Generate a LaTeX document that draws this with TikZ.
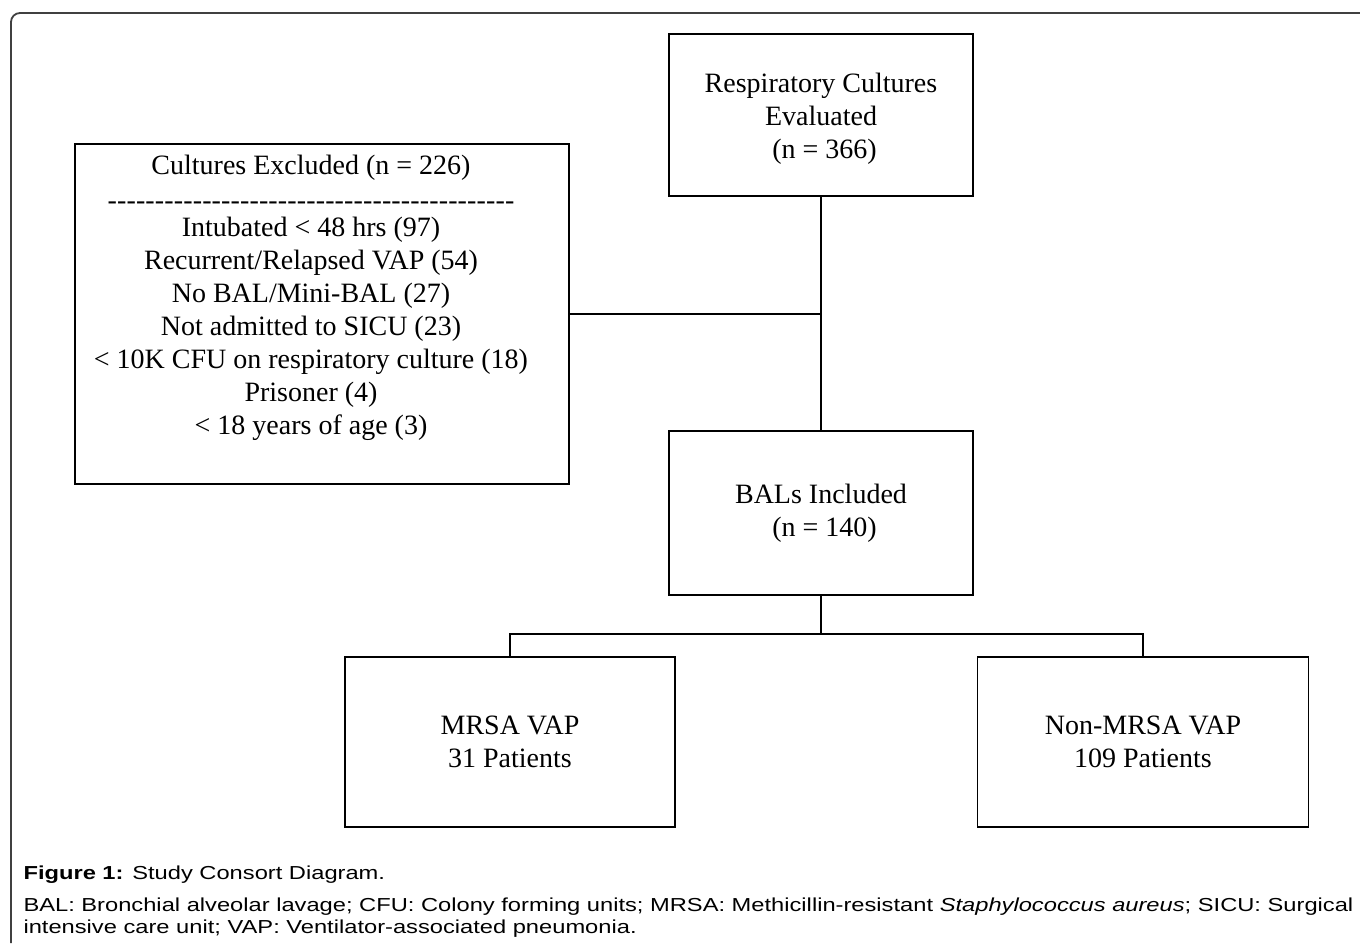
\documentclass[tikz,border=0pt]{standalone}
\usepackage{fontspec}
\setmainfont{Liberation Serif}
\setsansfont{Liberation Sans}
\newfontfamily\capsans{Liberation Sans}[FakeStretch=1.26]
\newcommand{\lowertext}[2]{\raisebox{-#1}[\height][\depth]{\begin{tabular}{@{}c@{}}#2\end{tabular}}}
\begin{document}
\begin{tikzpicture}[x=1pt, y=-1pt,
    box/.style={draw, line width=1.6pt, inner sep=0pt, align=center,
      font=\fontsize{28}{33}\selectfont},
    link/.style={line width=1.6pt},
    frame/.style={line width=1.8pt, black!75, rounded corners=9pt},
    capfont/.style={font=\capsans\fontsize{18.8}{22}\selectfont}]

  \useasboundingbox (0,0) rectangle (1360,943);

  % Outer frame (open at right and bottom)
  \draw[frame] (11,943) -- (11,13) -- (1360,13);

  %% ===== BOXES =====
  \node[box, minimum width=304pt, minimum height=162pt] (resp) at (821,115)
    {\lowertext{4pt}{Respiratory Cultures\\Evaluated\\\hspace*{7pt}(n = 366)}};
  \node[box, minimum width=494pt, minimum height=340pt] (excl) at (322,314) {};
  \node[align=center, font=\fontsize{28}{33}\selectfont] (excltext) at (311,298)
    {Cultures Excluded (n = 226)\\[2pt]
     \hbox to 407pt{\xleaders\hbox{-}\hfill}\\[-6pt]
     Intubated < 48 hrs (97)\\
     Recurrent/Relapsed VAP (54)\\
     No BAL/Mini-BAL (27)\\
     Not admitted to SICU (23)\\
     < 10K CFU on respiratory culture (18)\\
     Prisoner (4)\\
     < 18 years of age (3)};
  \node[box, minimum width=304pt, minimum height=164pt] (bal) at (821,513)
    {BALs Included\\\hspace*{7pt}(n = 140)};
  \node[box, minimum width=330pt, minimum height=170pt] (mrsa) at (510,742)
    {\lowertext{2pt}{MRSA VAP\\31 Patients}};
  \node[box, minimum width=331pt, minimum height=170pt] (nonmrsa) at (1143,742)
    {\lowertext{2pt}{Non-MRSA VAP\\109 Patients}};

  %% ===== CONNECTORS =====
  \coordinate (junc) at (resp.south |- excl.east);
  \coordinate (split) at (821,634);
  \draw[link] (resp.south) -- (bal.north);
  \draw[link] (excl.east) -- (junc);
  \draw[link] (bal.south) -- (split);
  \draw[link] (mrsa.north) |- (split) -| (nonmrsa.north);

  %% ===== CAPTION =====
  \node[capfont, anchor=west] (title) at (20,875)
    {\textbf{Figure 1:} Study Consort Diagram.};
  \node[capfont, anchor=north west, align=left] (notes) at (20,894)
    {BAL: Bronchial alveolar lavage; CFU: Colony forming units; MRSA: Methicillin-resistant \textit{Staphylococcus aureus}; SICU: Surgical\\
     intensive care unit; VAP: Ventilator-associated pneumonia.};

\end{tikzpicture}
\end{document}
